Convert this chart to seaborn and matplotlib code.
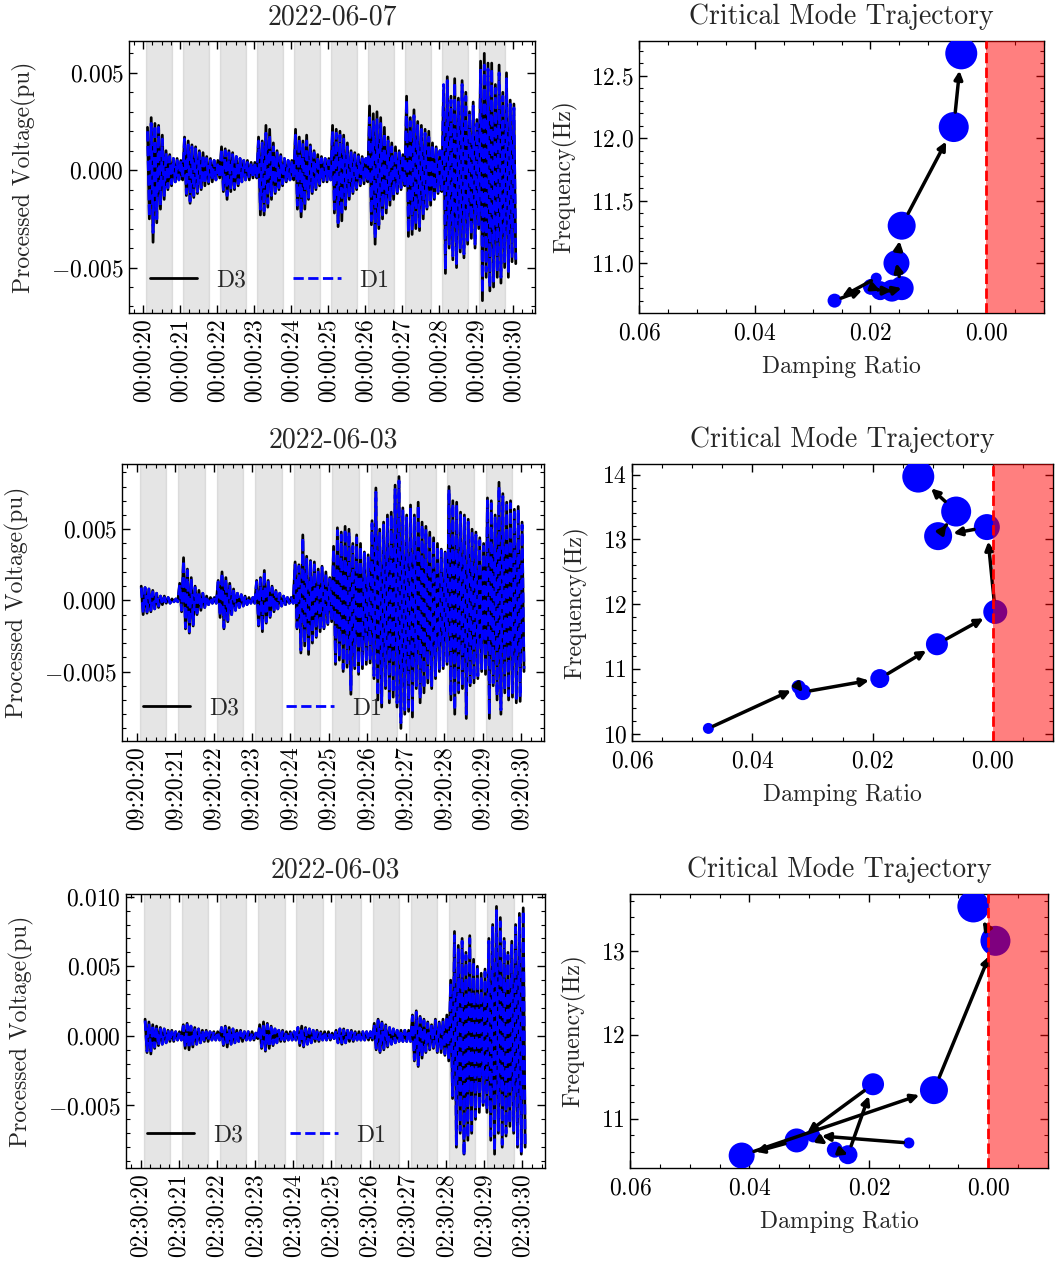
import numpy as np
import pandas as pd
import matplotlib
matplotlib.use("Agg")
import matplotlib.pyplot as plt
from matplotlib.ticker import MultipleLocator
import seaborn as sns

# ------------------------------------------------------------------ data
left_titles = ["2022-06-07", "2022-06-03", "2022-06-03"]
right_title = "Critical Mode Trajectory"

time_labels_1 = ["00:00:20", "00:00:21", "00:00:22", "00:00:23", "00:00:24", "00:00:25",
                 "00:00:26", "00:00:27", "00:00:28", "00:00:29", "00:00:30"]
time_labels_2 = ["09:20:20", "09:20:21", "09:20:22", "09:20:23", "09:20:24", "09:20:25",
                 "09:20:26", "09:20:27", "09:20:28", "09:20:29", "09:20:30"]
time_labels_3 = ["02:30:20", "02:30:21", "02:30:22", "02:30:23", "02:30:24", "02:30:25",
                 "02:30:26", "02:30:27", "02:30:28", "02:30:29", "02:30:30"]
tick_seconds = [20, 21, 22, 23, 24, 25, 26, 27, 28, 29, 30]

# analysis windows (grey bands), seconds
window_start = [20.08, 21.08, 22.08, 23.08, 24.08, 25.08, 26.08, 27.08, 28.08, 29.08]
window_end = [20.77, 21.77, 22.77, 23.77, 24.77, 25.77, 26.77, 27.77, 28.77, 29.77]

# processed voltage: successive positive / negative swings, units of 1e-4 pu
r1_d3_hi = [22, 27, 24, 23, 18, 10, 8, 6, 6, 5,
            17, 15, 13, 12, 10, 9, 7, 6, 5, 5,
            12, 11, 10, 9, 7, 6, 5, 5, 4, 4,
            17, 15, 23, 21, 14, 10, 8, 6, 5, 5,
            21, 17, 15, 18, 13, 10, 8, 7, 6, 6,
            23, 21, 20, 18, 14, 10, 9, 8, 7, 6,
            33, 29, 30, 27, 22, 17, 14, 12, 10, 8,
            38, 27, 31, 25, 23, 21, 20, 14, 12, 10,
            41, 48, 38, 47, 37, 46, 40, 30, 35, 26,
            56, 60, 55, 55, 44, 54, 40, 50, 36, 34]
r1_d3_lo = [-25, -37, -27, -20, -15, -10, -8, -6, -5, -5,
            -13, -17, -14, -12, -10, -8, -7, -6, -5, -4,
            -11, -15, -11, -10, -8, -6, -5, -5, -4, -4,
            -23, -23, -19, -15, -12, -10, -8, -6, -5, -5,
            -20, -24, -20, -15, -12, -10, -8, -6, -6, -5,
            -22, -29, -26, -20, -15, -12, -10, -8, -7, -6,
            -28, -38, -30, -25, -22, -18, -15, -12, -10, -8,
            -34, -33, -30, -31, -25, -20, -18, -15, -12, -11,
            -53, -40, -46, -50, -42, -45, -38, -35, -40, -30,
            -67, -55, -62, -60, -55, -58, -50, -55, -47, -48]
r1_d1_hi = [20, 24, 23, 22, 16, 9, 7, 6, 5, 5,
            16, 13, 12, 11, 9, 8, 6, 5, 5, 4,
            11, 10, 9, 8, 7, 6, 5, 4, 4, 4,
            15, 14, 19, 18, 12, 9, 7, 6, 5, 4,
            18, 16, 14, 15, 12, 9, 7, 6, 6, 5,
            20, 19, 18, 16, 12, 9, 8, 7, 6, 6,
            27, 25, 26, 24, 19, 15, 12, 10, 9, 8,
            36, 25, 28, 23, 21, 19, 17, 13, 11, 10,
            44, 46, 36, 45, 35, 44, 38, 29, 33, 24,
            52, 54, 52, 52, 42, 50, 38, 47, 34, 32]
r1_d1_lo = [-24, -32, -25, -18, -13, -9, -7, -6, -5, -4,
            -12, -16, -13, -11, -9, -7, -6, -5, -5, -4,
            -10, -13, -10, -9, -7, -6, -5, -4, -4, -4,
            -20, -21, -17, -13, -11, -9, -7, -6, -5, -4,
            -18, -22, -18, -14, -11, -9, -7, -6, -5, -5,
            -20, -27, -23, -18, -14, -11, -9, -7, -6, -6,
            -26, -35, -28, -23, -20, -16, -13, -11, -9, -8,
            -32, -31, -28, -29, -23, -19, -17, -14, -11, -10,
            -51, -38, -44, -48, -40, -43, -36, -33, -38, -28,
            -63, -52, -60, -57, -52, -55, -47, -52, -45, -46]

r2_d3_hi = [10, 9, 8, 7, 5, 3, 3, 2, 1, 1,
            12, 30, 22, 16, 10, 7, 5, 3, 2, 2,
            14, 20, 16, 12, 8, 5, 4, 3, 2, 2,
            14, 16, 21, 14, 10, 7, 5, 3, 2, 2,
            27, 25, 46, 31, 28, 27, 22, 24, 20, 16,
            38, 51, 48, 52, 50, 40, 46, 40, 34, 32,
            56, 79, 50, 55, 60, 62, 81, 87, 65, 60,
            67, 60, 69, 55, 52, 48, 44, 40, 36, 34,
            80, 70, 69, 62, 60, 57, 50, 48, 44, 40,
            72, 70, 60, 83, 75, 69, 70, 64, 66, 55]
r2_d3_lo = [-10, -9, -8, -6, -5, -3, -2, -2, -1, -1,
            -8, -20, -23, -18, -10, -7, -5, -3, -2, -2,
            -12, -20, -15, -10, -7, -5, -4, -3, -2, -2,
            -18, -22, -16, -12, -8, -6, -4, -3, -2, -2,
            -20, -37, -32, -38, -30, -26, -22, -20, -17, -15,
            -45, -42, -50, -47, -66, -48, -52, -48, -45, -44,
            -55, -70, -75, -62, -72, -68, -75, -90, -80, -78,
            -82, -62, -72, -65, -58, -62, -55, -50, -48, -45,
            -70, -80, -65, -62, -83, -60, -58, -55, -50, -52,
            -83, -60, -70, -80, -65, -70, -68, -72, -71, -50]
r2_d1_hi = [9, 9, 8, 6, 5, 3, 2, 2, 1, 1,
            11, 28, 21, 15, 9, 6, 5, 3, 2, 2,
            13, 19, 15, 11, 8, 5, 4, 3, 2, 2,
            13, 15, 20, 13, 9, 6, 5, 3, 2, 2,
            25, 24, 44, 29, 27, 25, 21, 23, 19, 15,
            36, 49, 46, 50, 48, 38, 44, 38, 33, 30,
            54, 76, 48, 53, 58, 60, 78, 84, 63, 58,
            65, 58, 67, 53, 50, 46, 42, 38, 35, 33,
            78, 68, 67, 60, 58, 55, 48, 46, 42, 38,
            70, 68, 58, 80, 73, 67, 68, 62, 64, 53]
r2_d1_lo = [-9, -8, -7, -6, -4, -3, -2, -2, -1, -1,
            -7, -19, -22, -17, -9, -6, -5, -3, -2, -2,
            -11, -19, -14, -10, -7, -5, -4, -3, -2, -2,
            -17, -21, -15, -11, -8, -6, -4, -3, -2, -2,
            -19, -35, -30, -36, -28, -25, -21, -19, -16, -14,
            -43, -40, -48, -45, -63, -46, -50, -46, -43, -42,
            -53, -67, -72, -60, -69, -65, -72, -86, -77, -75,
            -79, -60, -69, -62, -56, -60, -53, -48, -46, -43,
            -67, -77, -63, -60, -80, -58, -56, -53, -48, -50,
            -80, -58, -67, -77, -63, -67, -65, -69, -68, -48]

r3_d3_hi = [12, 10, 8, 7, 6, 5, 4, 4, 3, 3,
            8, 9, 7, 6, 5, 4, 4, 3, 3, 3,
            6, 7, 6, 5, 4, 4, 3, 3, 3, 2,
            8, 10, 9, 7, 5, 4, 4, 3, 3, 3,
            6, 7, 6, 5, 4, 4, 3, 3, 3, 2,
            4, 5, 5, 4, 4, 3, 3, 3, 3, 3,
            9, 12, 10, 8, 6, 5, 4, 4, 4, 4,
            15, 18, 14, 12, 10, 8, 12, 10, 12, 15,
            40, 75, 65, 70, 60, 72, 55, 50, 45, 48,
            70, 80, 93, 85, 70, 60, 68, 80, 88, 92]
r3_d3_lo = [-12, -13, -9, -7, -6, -5, -4, -4, -3, -3,
            -9, -10, -8, -6, -5, -4, -4, -3, -3, -3,
            -7, -8, -6, -5, -4, -4, -3, -3, -3, -2,
            -9, -11, -9, -7, -5, -4, -4, -3, -3, -3,
            -7, -8, -6, -5, -4, -4, -3, -3, -3, -2,
            -5, -6, -5, -4, -4, -3, -3, -3, -3, -3,
            -10, -12, -10, -8, -6, -5, -4, -4, -4, -4,
            -18, -22, -16, -12, -10, -9, -12, -12, -14, -18,
            -45, -80, -70, -85, -75, -70, -60, -55, -50, -55,
            -75, -85, -70, -80, -72, -65, -70, -80, -85, -80]
r3_d1_hi = [11, 9, 8, 6, 5, 5, 4, 3, 3, 3,
            7, 8, 7, 6, 5, 4, 3, 3, 3, 3,
            6, 6, 5, 5, 4, 3, 3, 3, 2, 2,
            7, 9, 8, 6, 5, 4, 3, 3, 3, 3,
            6, 6, 5, 5, 4, 3, 3, 3, 2, 2,
            4, 5, 4, 4, 3, 3, 3, 3, 3, 3,
            8, 11, 9, 7, 6, 5, 4, 4, 4, 4,
            14, 17, 13, 11, 9, 8, 11, 9, 11, 14,
            38, 72, 63, 68, 58, 70, 53, 48, 43, 46,
            68, 78, 90, 82, 68, 58, 66, 78, 85, 90]
r3_d1_lo = [-11, -12, -8, -7, -6, -5, -4, -3, -3, -3,
            -8, -9, -7, -6, -5, -4, -3, -3, -3, -3,
            -6, -7, -6, -5, -4, -3, -3, -3, -2, -2,
            -8, -10, -8, -6, -5, -4, -3, -3, -3, -3,
            -6, -7, -6, -5, -4, -3, -3, -3, -2, -2,
            -5, -5, -5, -4, -3, -3, -3, -3, -3, -3,
            -9, -11, -9, -7, -6, -5, -4, -4, -4, -4,
            -17, -21, -15, -11, -9, -8, -11, -11, -13, -17,
            -43, -78, -68, -86, -73, -68, -58, -53, -48, -53,
            -72, -83, -68, -78, -70, -63, -68, -78, -83, -78]

# critical-mode trajectories (damping ratio, frequency in Hz), one point per window
r1_damping = [0.0190, 0.0262, 0.0199, 0.0183, 0.0163, 0.0146, 0.0155, 0.0146, 0.0056, 0.0043]
r1_freq = [10.88, 10.70, 10.81, 10.78, 10.78, 10.80, 11.00, 11.30, 12.09, 12.68]
r2_damping = [0.0473, 0.0323, 0.0316, 0.0188, 0.0093, -0.0004, 0.0010, 0.0091, 0.0061, 0.0124]
r2_freq = [10.08, 10.72, 10.64, 10.85, 11.38, 11.88, 13.19, 13.05, 13.43, 13.97]
r3_damping = [0.0133, 0.0293, 0.0257, 0.0235, 0.0193, 0.0321, 0.0413, 0.0091, -0.0012, 0.0025]
r3_freq = [10.71, 10.80, 10.63, 10.57, 11.41, 10.74, 10.56, 11.34, 13.12, 13.53]
window_index = [1, 2, 3, 4, 5, 6, 7, 8, 9, 10]

# ------------------------------------------------------------------ style
sns.set_style("ticks")
plt.rcParams.update({
    "font.family": "serif",
    "font.serif": ["cmr10", "DejaVu Serif"],
    "mathtext.fontset": "cm",
    "axes.formatter.use_mathtext": True,
    "axes.unicode_minus": True,
    "axes.linewidth": 1.0,
    "axes.edgecolor": "black",
    "xtick.direction": "in",
    "ytick.direction": "in",
    "xtick.top": True,
    "ytick.right": True,
    "xtick.major.size": 6,
    "ytick.major.size": 6,
    "xtick.minor.size": 3,
    "ytick.minor.size": 3,
    "xtick.major.width": 1.0,
    "ytick.major.width": 1.0,
    "xtick.minor.width": 0.8,
    "ytick.minor.width": 0.8,
    "xtick.color": "black",
    "ytick.color": "black",
})

W, H = 1055, 1268
fig = plt.figure(figsize=(W / 100, H / 100), dpi=100)


def px_axes(x0, y0, x1, y1):
    return fig.add_axes([x0 / W, 1 - y1 / H, (x1 - x0) / W, (y1 - y0) / H])


left_boxes = [(129, 41, 535, 313), (122, 464, 544, 741), (126, 894, 545, 1168)]
right_boxes = [(639, 41, 1044, 313), (632, 464, 1053, 741), (630, 894, 1048, 1168)]

TITLE_FS = 20
LABEL_FS = 17
TICK_FS = 17

sample_t = 20.12 + 0.1 * np.arange(100)

signals = [
    (r1_d3_hi, r1_d3_lo, r1_d1_hi, r1_d1_lo, time_labels_1),
    (r2_d3_hi, r2_d3_lo, r2_d1_hi, r2_d1_lo, time_labels_2),
    (r3_d3_hi, r3_d3_lo, r3_d1_hi, r3_d1_lo, time_labels_3),
]
trajs = [(r1_damping, r1_freq), (r2_damping, r2_freq), (r3_damping, r3_freq)]
minor_freq = [0.1, 0.2, 0.2]
major_freq = [0.5, 1.0, 1.0]

radius_px = [5.5, 7.0, 8.0, 9.5, 11.0, 12.0, 13.0, 14.0, 15.0, 16.0]
sizes = [(2 * r * 0.72) ** 2 for r in radius_px]


def zig(hi, lo):
    t = np.column_stack([sample_t, sample_t + 0.05]).ravel()
    v = np.column_stack([np.asarray(hi), np.asarray(lo)]).ravel() * 1e-4
    return pd.DataFrame({"t": t, "v": v})


for row in range(3):
    d3h, d3l, d1h, d1l, tlabels = signals[row]
    ax = px_axes(*left_boxes[row])
    for s, e in zip(window_start, window_end):
        ax.axvspan(s, e, color="gray", alpha=0.2, zorder=0)
    sns.lineplot(data=zig(d3h, d3l), x="t", y="v", ax=ax, color="black", lw=2.0,
                 sort=False, estimator=None, label="D3", zorder=2)
    sns.lineplot(data=zig(d1h, d1l), x="t", y="v", ax=ax, color="blue", lw=2.0,
                 linestyle="--", sort=False, estimator=None, label="D1", zorder=3)
    ax.set_xlim(19.62, 30.59)
    ax.set_xticks(tick_seconds)
    ax.set_xticklabels(tlabels, rotation=90, fontsize=TICK_FS)
    ax.xaxis.set_minor_locator(MultipleLocator(0.25))
    ax.yaxis.set_major_locator(MultipleLocator(0.005))
    ax.yaxis.set_minor_locator(MultipleLocator(0.001))
    ax.tick_params(axis="y", labelsize=TICK_FS)
    ax.tick_params(which="both", direction="in", top=True, right=True)
    ax.set_xlabel("")
    ax.set_ylabel("Processed Voltage(pu)", fontsize=LABEL_FS, labelpad=10)
    ax.set_title(left_titles[row], fontsize=TITLE_FS, pad=12)
    ax.legend(loc="lower left", ncol=2, frameon=False, fontsize=LABEL_FS,
              handlelength=2.0, columnspacing=2.0)

    damp, freq = trajs[row]
    axr = px_axes(*right_boxes[row])
    tdf = pd.DataFrame({"damping": damp, "freq": freq, "k": window_index})
    sns.scatterplot(data=tdf, x="damping", y="freq", ax=axr, color="blue",
                    s=sizes, linewidth=0, zorder=3, legend=False)
    for i in range(len(damp) - 1):
        axr.annotate("", xy=(damp[i + 1], freq[i + 1]), xytext=(damp[i], freq[i]),
                     arrowprops=dict(arrowstyle="-|>", color="black", lw=2.5,
                                     mutation_scale=12,
                                     shrinkA=radius_px[i] * 0.72,
                                     shrinkB=radius_px[i + 1] * 0.72 + 1),
                     zorder=4)
    axr.axvspan(0.0, -0.01, color="red", alpha=0.5, lw=0, zorder=5)
    axr.axvline(0.0, color="red", ls="--", lw=2.0, zorder=6)
    axr.set_xlim(0.06, -0.01)
    axr.xaxis.set_major_locator(MultipleLocator(0.02))
    axr.xaxis.set_minor_locator(MultipleLocator(0.005))
    axr.yaxis.set_major_locator(MultipleLocator(major_freq[row]))
    axr.yaxis.set_minor_locator(MultipleLocator(minor_freq[row]))
    axr.tick_params(labelsize=TICK_FS)
    axr.tick_params(axis="x", pad=7)
    axr.tick_params(which="both", direction="in", top=True, right=True)
    axr.set_xlabel("Damping Ratio", fontsize=LABEL_FS, labelpad=8)
    axr.set_ylabel("Frequency(Hz)", fontsize=LABEL_FS, labelpad=10)
    axr.set_title(right_title, fontsize=TITLE_FS, pad=12)

fig.savefig("out.png", dpi=100)
